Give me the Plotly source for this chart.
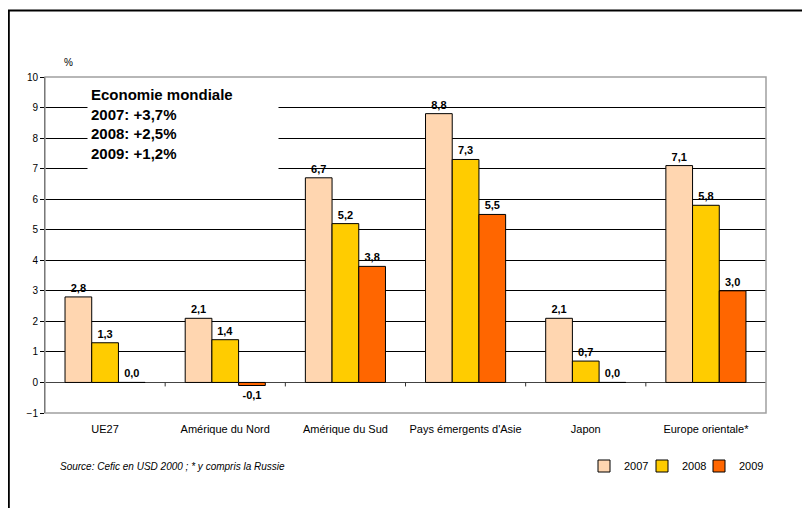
import plotly.graph_objects as go

categories = ["UE27", "Amérique du Nord", "Amérique du Sud",
              "Pays émergents d'Asie", "Japon", "Europe orientale*"]
v2007 = [2.8, 2.1, 6.7, 8.8, 2.1, 7.1]
v2008 = [1.3, 1.4, 5.2, 7.3, 0.7, 5.8]
v2009 = [0.0, -0.1, 3.8, 5.5, 0.0, 3.0]
years = ["2007", "2008", "2009"]
colors = ["#FFD6B0", "#FFCC00", "#FF6600"]

y_ticks = list(range(-1, 11))

# page body has an 8px margin: figure coordinates = screen - 8
OFF = 8
W, H = 802, 500
L, R, T, B = 37, 44, 69, 95
pw, ph = W - L - R, H - T - B

def px(x):
    return (x - OFF - L) / pw

def py(y):
    return 1 - (y - OFF - T) / ph

legend_ids = ["legend", "legend2", "legend3"]
legend_x = [584, 642, 699]

fig = go.Figure()
for name, vals, col, lid in zip(years, [v2007, v2008, v2009], colors, legend_ids):
    fig.add_trace(go.Bar(
        x=categories, y=vals, name=name, legend=lid,
        marker=dict(color=col, line=dict(color="black", width=1)),
        text=[f"{v:.1f}".replace(".", ",") for v in vals],
        textposition="outside", constraintext="none",
        textfont=dict(family="Liberation Sans, Arial", size=11, color="black", weight="bold"),
        cliponaxis=False,
    ))

shapes = [
    # plot border (grey)
    dict(type="rect", xref="paper", yref="paper", x0=0, x1=1, y0=0, y1=1,
         line=dict(color="#A0A0A0", width=1.5), layer="above"),
    # outer frame
    dict(type="line", xref="paper", yref="paper", x0=px(8), x1=px(830), y0=py(10.5), y1=py(10.5),
         line=dict(color="black", width=2)),
    dict(type="line", xref="paper", yref="paper", x0=px(8.8), x1=px(8.8), y0=py(10), y1=py(530),
         line=dict(color="black", width=2)),
]
# category boundary ticks on the zero line
for i in range(len(categories) - 1):
    shapes.append(dict(type="line", xref="x", yref="y", x0=i + 0.5, x1=i + 0.5,
                       y0=0, y1=-0.13, line=dict(color="#333", width=1)))

legend_style = dict(orientation="h", xanchor="left", y=py(466), yanchor="middle",
                    font=dict(size=11), itemwidth=30, bgcolor="rgba(0,0,0,0)")

fig.update_layout(
    width=W, height=H,
    margin=dict(l=L, r=R, t=T, b=B, autoexpand=False),
    paper_bgcolor="white", plot_bgcolor="white",
    barmode="group", bargap=1/3, bargroupgap=0,
    font=dict(family="Liberation Sans, Arial", color="black"),
    showlegend=True,
    legend=dict(x=px(legend_x[0]), **legend_style),
    legend2=dict(x=px(legend_x[1]), **legend_style),
    legend3=dict(x=px(legend_x[2]), **legend_style),
    xaxis=dict(showgrid=False, ticks="", showline=False, zeroline=False, tickangle=0,
               tickfont=dict(size=11), ticklabelstandoff=8),
    yaxis=dict(range=[-1, 10], tickvals=y_ticks, showgrid=True, gridcolor="black", gridwidth=1,
               zeroline=True, zerolinecolor="#444", zerolinewidth=1,
               showline=True, linecolor="black", linewidth=1,
               ticks="outside", ticklen=4, tickcolor="black", tickfont=dict(size=10)),
    shapes=shapes,
    annotations=[
        dict(text="%", xref="paper", yref="paper", x=px(62), y=py(55), showarrow=False,
             font=dict(size=10)),
        dict(text="<b>Economie mondiale<br>2007: +3,7%<br>2008: +2,5%<br>2009: +1,2%</b>",
             xref="paper", yref="paper", x=px(87), y=py(82), xanchor="left", yanchor="top",
             align="left", valign="top", width=184, height=90, borderpad=3,
             bgcolor="white", showarrow=False, font=dict(size=15)),
        dict(text="<i>Source: Cefic en USD 2000 ; * y compris la Russie</i>",
             xref="paper", yref="paper", x=px(58), y=py(466), xanchor="left", yanchor="middle",
             showarrow=False, font=dict(size=10)),
    ],
)

fig.write_html("out.html")
